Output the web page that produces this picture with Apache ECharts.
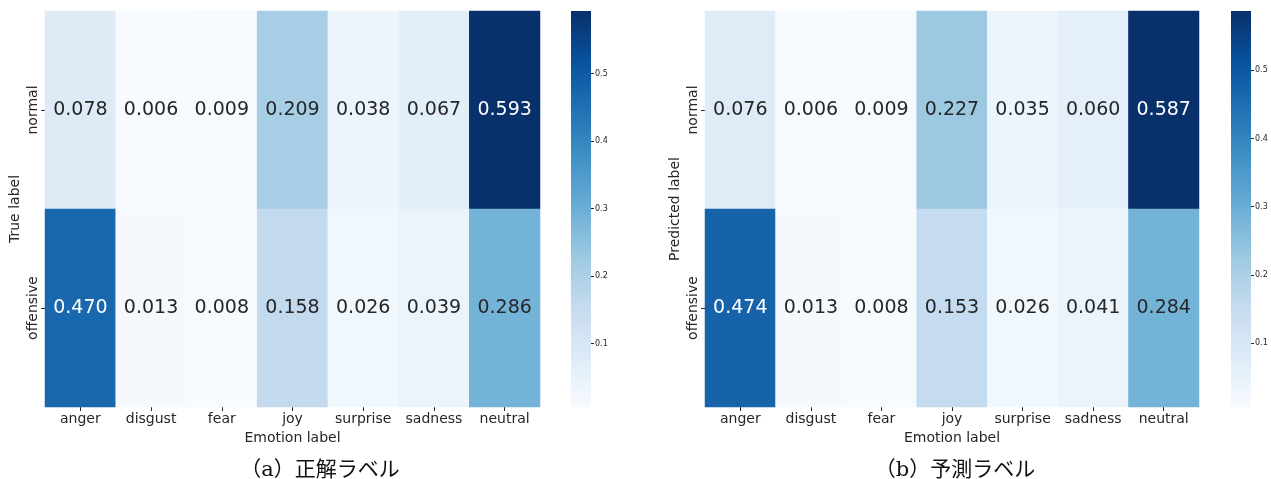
<!DOCTYPE html>
<html><head><meta charset="utf-8">
<script src="https://cdn.jsdelivr.net/npm/echarts@6/dist/echarts.min.js"></script>
<style>html,body{margin:0;padding:0;background:#fff;}#c{width:1271px;height:479px;}</style>
</head><body><div id="c"></div>
<script>
const emotions = ['anger','disgust','fear','joy','surprise','sadness','neutral'];
const classes = ['normal','offensive'];
const trueNormal = [0.078,0.006,0.009,0.209,0.038,0.067,0.593];
const trueOffensive = [0.470,0.013,0.008,0.158,0.026,0.039,0.286];
const predNormal = [0.076,0.006,0.009,0.227,0.035,0.060,0.587];
const predOffensive = [0.474,0.013,0.008,0.153,0.026,0.041,0.284];
const colorbarTicks = [0.1,0.2,0.3,0.4,0.5];
const captions = ['（a）正解ラベル','（b）予測ラベル'];
const yNames = ['True label','Predicted label'];
const xName = 'Emotion label';

const blues = ['#f7fbff','#deebf7','#c6dbef','#9ecae1','#6baed6','#4292c6','#2171b5','#08519c','#08306b'];
const FONT = "'DejaVu Sans', sans-serif";
const TXT = '#262626';

function cells(rows){
  const out=[];
  rows.forEach((row,r)=>row.forEach((v,c)=>{
    out.push({value:[c,r,v],label:{color: v>0.4?'#ffffff':TXT}});
  }));
  return out;
}
const mats = [[trueNormal,trueOffensive],[predNormal,predOffensive]];
const panels = [{gx:45,gw:495,cb:571},{gx:705,gw:494,cb:1231}];
const TOP=11, H=396;

const grid=[],xAxis=[],yAxis=[],series=[],visualMap=[],graphic=[];
panels.forEach((p,i)=>{
  const rows = mats[i];
  const all = rows.flat();
  const mn = Math.min(...all), mx = Math.max(...all);
  grid.push({left:p.gx,top:TOP,width:p.gw,height:H});
  const hi = grid.length-1;
  xAxis.push({type:'category',gridIndex:hi,data:emotions,
    axisLine:{show:false},axisTick:{show:true,alignWithLabel:true,length:4,lineStyle:{color:TXT}},
    axisLabel:{fontFamily:FONT,fontSize:14,color:TXT,margin:5,interval:0},
    splitArea:{show:false},
    name:xName,nameLocation:'middle',nameGap:24,nameTextStyle:{fontFamily:FONT,fontSize:14,color:TXT}});
  yAxis.push({type:'category',gridIndex:hi,data:classes,inverse:true,
    axisLine:{show:false},axisTick:{show:true,alignWithLabel:true,length:4,lineStyle:{color:TXT}},
    axisLabel:{fontFamily:FONT,fontSize:14,color:TXT,rotate:90,margin:5,interval:0},
    name:yNames[i],nameLocation:'middle',nameGap:23,nameRotate:90,nameTextStyle:{fontFamily:FONT,fontSize:14,color:TXT}});
  series.push({type:'heatmap',xAxisIndex:hi,yAxisIndex:hi,data:cells(rows),
    label:{show:true,fontFamily:FONT,fontSize:19,formatter:(d)=>d.value[2].toFixed(3)},
    itemStyle:{borderWidth:0},emphasis:{disabled:true}});
  visualMap.push({type:'continuous',seriesIndex:series.length-1,min:mn,max:mx,
    calculable:false,show:false,inRange:{color:blues}});
  // colorbar
  grid.push({left:p.cb,top:TOP,width:20,height:H});
  const ci = grid.length-1;
  xAxis.push({type:'category',gridIndex:ci,show:false,data:['cb']});
  yAxis.push({type:'value',gridIndex:ci,position:'right',min:mn,max:mx,
    axisLine:{show:false},splitLine:{show:false},
    axisTick:{show:true,length:3,customValues:colorbarTicks,lineStyle:{color:TXT}},
    axisLabel:{fontFamily:FONT,fontSize:8,color:TXT,margin:4,customValues:colorbarTicks,formatter:(v)=>String(Math.round(v*10)/10)}});
  series.push({type:'bar',xAxisIndex:ci,yAxisIndex:ci,barWidth:'100%',silent:true,
    data:[mx],
    itemStyle:{borderRadius:0,color:new echarts.graphic.LinearGradient(0,1,0,0,
      blues.map((c,k)=>({offset:k/(blues.length-1),color:c})))}});
  graphic.push({type:'text',x:[320,955][i],y:471,style:{text:captions[i],textAlign:'center',textVerticalAlign:'middle',
    font:"21px 'DejaVu Serif', 'Noto Sans CJK JP', serif",fill:'#111'}});
});

const chart = echarts.init(document.getElementById('c'),null,{renderer:'canvas'});
chart.setOption({animation:false,backgroundColor:'#fff',grid,xAxis,yAxis,series,visualMap,graphic});
</script></body></html>
